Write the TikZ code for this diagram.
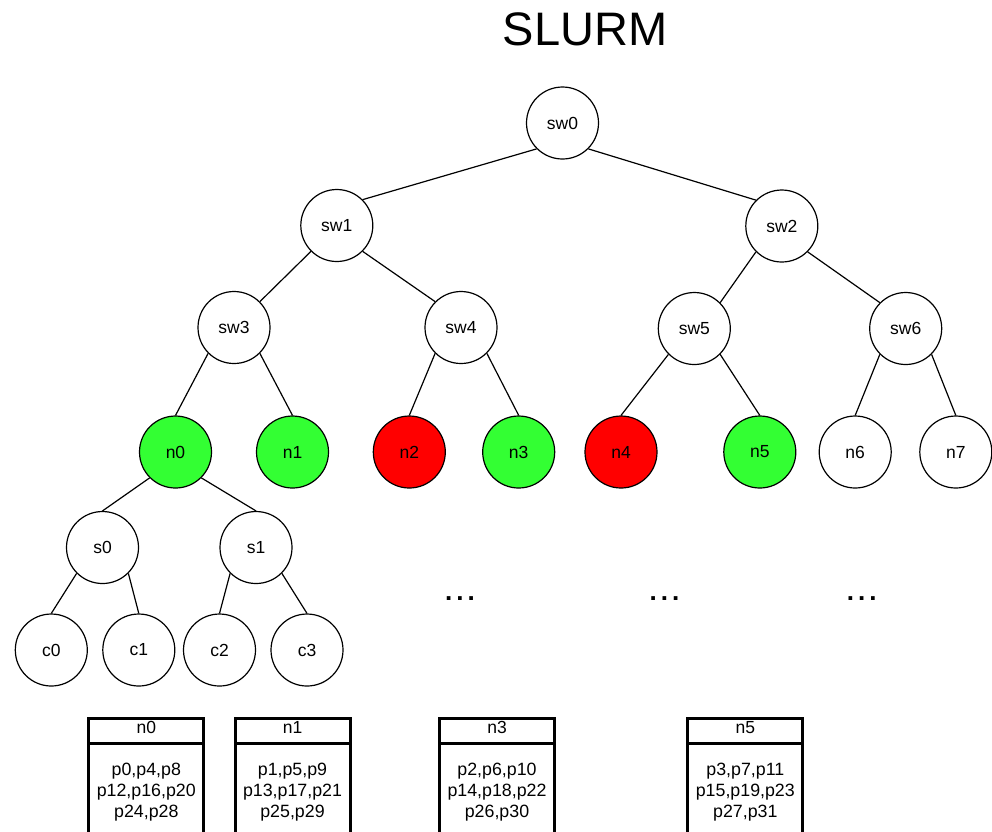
\documentclass[tikz,border=0pt]{standalone}
\usepackage{fontspec}
\setmainfont{Liberation Sans}
\begin{document}
\begin{tikzpicture}[x=1pt,y=-1pt,
  every node/.style={font=\fontsize{17.5}{20}\selectfont},
  vert/.style={circle,draw=black,line width=1.2pt,minimum size=72pt,inner sep=0pt,fill=white},
  up/.style={vert,fill=upgreen},
  down/.style={vert,fill=red},
  link/.style={line width=1.2pt},
  hdrbox/.style={draw=black,line width=3pt,minimum width=115pt,minimum height=25.3pt,
    inner sep=0pt,text height=12pt,text depth=7pt},
  bodybox/.style={draw=black,line width=3pt,minimum width=115pt,minimum height=98.4pt,
    inner sep=0pt,align=center,font=\fontsize{17.8}{21}\selectfont},
  more/.style={font=\fontsize{26}{26}\selectfont\bfseries,anchor=base,inner sep=0pt}
]
\definecolor{upgreen}{HTML}{33FF33}
\useasboundingbox (0,0) rectangle (992,831);
\clip (0,0) rectangle (992,831);

% title
\node[font=\fontsize{47}{50}\selectfont,anchor=base,inner sep=0pt] (title) at (585,45) {SLURM};

% switch hierarchy
\node[vert] (sw0) at (562.5,123) {sw0};
\node[vert] (sw1) at (336.8,225.5) {sw1};
\node[vert] (sw2) at (781.8,226) {sw2};
\node[vert] (sw3) at (234,327.5) {sw3};
\node[vert] (sw4) at (461,327.5) {sw4};
\node[vert] (sw5) at (694.3,328.5) {sw5};
\node[vert] (sw6) at (905.7,328.5) {sw6};

% compute nodes
\node[up]   (n0) at (175.5,452) {n0};
\node[up]   (n1) at (292.5,452) {n1};
\node[down] (n2) at (409.3,452) {n2};
\node[up]   (n3) at (518.7,452) {n3};
\node[down] (n4) at (621,452) {n4};
\node[up]   (n5) at (759.8,452) {n5};
\node[vert] (n6) at (855.2,452) {n6};
\node[vert] (n7) at (955.8,452) {n7};

% sockets and cores of n0
\node[vert] (s0) at (102.5,547.5) {s0};
\node[vert] (s1) at (256,547.5) {s1};
\node[vert] (c0) at (51.3,650) {c0};
\node[vert] (c1) at (138.8,650) {c1};
\node[vert] (c2) at (219.5,650) {c2};
\node[vert] (c3) at (307,650) {c3};

% links
\draw[link] (sw0.south west) -- (sw1.north east);
\draw[link] (sw0.south east) -- (sw2.north west);
\draw[link] (sw1.south west) -- (sw3.north east);
\draw[link] (sw1.south east) -- (sw4.north west);
\draw[link] (sw2.south west) -- (sw5.north east);
\draw[link] (sw2.south east) -- (sw6.north west);
\draw[link] (sw3.south west) -- (n0.north);
\draw[link] (sw3.south east) -- (n1.north);
\draw[link] (sw4.south west) -- (n2.north);
\draw[link] (sw4.south east) -- (n3.north);
\draw[link] (sw5.south west) -- (n4.north);
\draw[link] (sw5.south east) -- (n5.north);
\draw[link] (sw6.south west) -- (n6.north);
\draw[link] (sw6.south east) -- (n7.north);
\draw[link] (n0.south west) -- (s0.north);
\draw[link] (n0.south east) -- (s1.north);
\draw[link] (s0.south west) -- (c0.north);
\draw[link] (s0.south east) -- (c1.north);
\draw[link] (s1.south west) -- (c2.north);
\draw[link] (s1.south east) -- (c3.north);

% elided subtrees
\node[more] (m1) at (460,600) {.\kern4pt.\kern4pt.};
\node[more] (m2) at (664.5,600) {.\kern4pt.\kern4pt.};
\node[more] (m3) at (861.7,600) {.\kern4pt.\kern4pt.};

% rank placement tables
\node[bodybox] (b0) at (146.3,792.5) {p0,p4,p8\\p12,p16,p20\\p24,p28};
\node[hdrbox]  (h0) at (146.3,730.65) {n0};
\node[bodybox] (b1) at (292.5,792.5) {p1,p5,p9\\p13,p17,p21\\p25,p29};
\node[hdrbox]  (h1) at (292.5,730.65) {n1};
\node[bodybox] (b3) at (497,792.5) {p2,p6,p10\\p14,p18,p22\\p26,p30};
\node[hdrbox]  (h3) at (497,730.65) {n3};
\node[bodybox] (b5) at (745.3,792.5) {p3,p7,p11\\p15,p19,p23\\p27,p31};
\node[hdrbox]  (h5) at (745.3,730.65) {n5};
\end{tikzpicture}
\end{document}
